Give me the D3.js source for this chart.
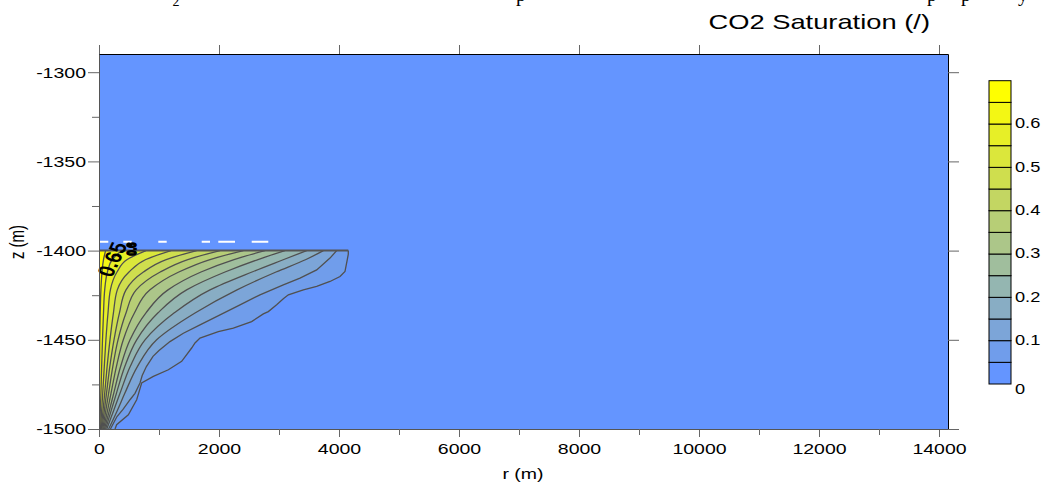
<!DOCTYPE html>
<html><head><meta charset="utf-8">
<script src="https://cdn.jsdelivr.net/npm/d3@7"></script>
<style>body{margin:0;background:#fff}svg{display:block}</style>
</head><body>
<svg id="c" width="1044" height="485"></svg>
<script>
// ---------------- DATA ----------------
const TITLE = "CO2 Saturation (/)";
const X_LABEL = "r (m)";
const Y_LABEL = "z (m)";
const X_DOMAIN = [0, 14150];
const Y_DOMAIN = [-1500, -1289.8];
const X_TICKS = [0, 2000, 4000, 6000, 8000, 10000, 12000, 14000];
const X_MINOR = [1000, 3000, 5000, 7000, 9000, 11000, 13000];
const Y_TICKS = [-1300, -1350, -1400, -1450, -1500];
const Y_MINOR = [-1325, -1375, -1425, -1475];
const CB_LEVELS = [0, 0.05, 0.1, 0.15, 0.2, 0.25, 0.3, 0.35, 0.4, 0.45, 0.5, 0.55, 0.6, 0.65, 0.7];
const CB_TICKS = [0, 0.1, 0.2, 0.3, 0.4, 0.5, 0.6];

// outer contours (r in m, z in m)
const R_005 = [4155,4155,4138,4100,4017,3850,3628,3406,3156,3072,2961,2822,2739,2544,2239,1989,1683,1600,1544,1378,1156,906,711,660,628,489,294,267];
const Z_005 = [-1400,-1402,-1405,-1411.7,-1414.5,-1417.3,-1420.1,-1422,-1424.8,-1427,-1430.4,-1434.2,-1435.5,-1439.8,-1443.4,-1445.4,-1449,-1451.8,-1454.6,-1462.1,-1466.8,-1470.5,-1474.2,-1480,-1483.6,-1492,-1497.6,-1500];
const R_010 = [3961,3850,3628,3350,3072,2683,2350,2017,1683,1406,1183,1000,900,790,720,683,600,517,400,300,190];
const Z_010 = [-1400,-1404.2,-1410.8,-1415.4,-1419.2,-1424.8,-1430.4,-1436,-1441.6,-1446.3,-1451,-1456,-1459.3,-1465,-1470,-1474.2,-1480,-1483.6,-1489,-1493,-1500];
// inner contours at common depths
const Z_INNER = [-1400,-1405,-1412,-1422,-1435,-1450,-1465,-1480,-1490,-1500];
const R_015 = [3739,3450,2950,2300,1600,961,640,430,300,160];
const R_020 = [3461,3080,2550,1850,1250,767,520,350,240,130];
const R_025 = [3100,2650,2100,1460,980,628,430,290,200,110];
const R_030 = [2767,2250,1700,1150,780,517,360,245,170,92];
const R_035 = [2406,1850,1330,850,590,405,290,200,140,76];
const R_040 = [2017,1480,1020,620,450,317,230,160,112,62];
const R_045 = [1628,1120,740,450,340,250,180,125,88,48];
const R_050 = [1200,780,500,305,240,183,135,95,66,36];
const R_055 = [783,470,300,190,150,115,88,62,44,25];
const R_060 = [380,220,140,95,75,58,44,32,22,14];
const R_065 = [110,75,50,32,20,12,8,5,3,2];
const CONTOUR_LABEL = "0.65";
const CONTOUR_LABEL2 = "0.6";
const DASH_R = [0, 2850];
const DASH_Z = -1395;
const PLUME_TOP_Z = -1400;

// ---------------- DRAW ----------------
const svg = d3.select("#c");
const FONT = "'Liberation Sans', Arial, sans-serif";
const STRETCH = 1.3;
const x = d3.scaleLinear().domain(X_DOMAIN).range([99, 948]);
const y = d3.scaleLinear().domain(Y_DOMAIN).range([429, 54]);
const BLUE = "#6495ff", YELLOW = "#ffff00";
const ncell = CB_LEVELS.length - 1;
const colors = d3.range(ncell).map(i => d3.interpolateRgb(BLUE, YELLOW)(i / (ncell - 1)));

function stretch(sel) {
  sel.each(function () {
    const w = this.getComputedTextLength();
    this.setAttribute("textLength", w * STRETCH);
    this.setAttribute("lengthAdjust", "spacingAndGlyphs");
  });
}

svg.append("defs").append("clipPath").attr("id", "clip")
  .append("rect").attr("x", x(X_DOMAIN[0])).attr("y", y(Y_DOMAIN[1]))
  .attr("width", x(X_DOMAIN[1]) - x(X_DOMAIN[0])).attr("height", y(Y_DOMAIN[0]) - y(Y_DOMAIN[1]));

svg.append("rect").attr("x", x(X_DOMAIN[0])).attr("y", y(Y_DOMAIN[1]))
  .attr("width", x(X_DOMAIN[1]) - x(X_DOMAIN[0])).attr("height", y(Y_DOMAIN[0]) - y(Y_DOMAIN[1]))
  .attr("fill", colors[0]);

const contours = [
  { lv: 0.05, pts: R_005.map((r, i) => [r, Z_005[i]]), curve: d3.curveLinear },
  { lv: 0.10, pts: R_010.map((r, i) => [r, Z_010[i]]), curve: d3.curveLinear },
  ...[R_015, R_020, R_025, R_030, R_035, R_040, R_045, R_050, R_055, R_060, R_065].map((arr, k) => ({
    lv: 0.15 + 0.05 * k, pts: arr.map((r, i) => [r, Z_INNER[i]]), curve: d3.curveMonotoneY
  }))
];

const gP = svg.append("g").attr("clip-path", "url(#clip)");
contours.forEach((c, i) => {
  const line = d3.line().x(d => x(d[0])).y(d => y(d[1])).curve(c.curve);
  const p = line(c.pts);
  const fillPath = `M${x(0)},${y(PLUME_TOP_Z)}L` + p.slice(1) + `L${x(0)},${y(-1500)}Z`;
  c.path = p;
  gP.append("path").attr("d", fillPath).attr("fill", colors[i + 1]).attr("stroke", "none");
});
contours.forEach(c => {
  gP.append("path").attr("d", c.path).attr("fill", "none").attr("stroke", "#505050").attr("stroke-width", 1.3);
});
gP.append("line").attr("x1", x(0)).attr("x2", x(R_005[0])).attr("y1", y(PLUME_TOP_Z)).attr("y2", y(PLUME_TOP_Z))
  .attr("stroke", "#555").attr("stroke-width", 2);
gP.append("line").attr("x1", x(DASH_R[0])).attr("x2", x(DASH_R[1])).attr("y1", y(DASH_Z)).attr("y2", y(DASH_Z))
  .attr("stroke", "#fff").attr("stroke-width", 2)
  .attr("stroke-dasharray", "0,1,8.3,15,8.4,26.6,8.4,35,8.3,8.3,16.7,16.7,16.6,200");

// contour labels
svg.append("text").attr("transform", `translate(114,260) scale(${STRETCH},1) rotate(-70)`)
  .attr("text-anchor", "middle").attr("dominant-baseline", "middle")
  .attr("font-family", FONT).attr("font-weight", "bold").attr("font-size", 18).attr("fill", "#000")
  .text(CONTOUR_LABEL);
svg.append("text").attr("transform", `translate(133,249) rotate(-90)`)
  .attr("text-anchor", "middle").attr("dominant-baseline", "middle")
  .attr("font-family", FONT).attr("font-weight", "bold").attr("font-size", 13).attr("fill", "#000")
  .attr("stroke", "#000").attr("stroke-width", 1.6)
  .attr("textLength", 13).attr("lengthAdjust", "spacingAndGlyphs")
  .text(CONTOUR_LABEL2);

// axes
function styleAxis(g, col) {
  g.selectAll(".domain").attr("stroke", col);
  g.selectAll(".tick line").attr("stroke", "#666");
  g.selectAll("text").attr("font-family", FONT).attr("font-size", 15).attr("fill", "#000");
}
const gl = svg.append("g").attr("transform", `translate(${x(0)},0)`)
  .call(d3.axisLeft(y).tickValues(Y_TICKS).tickSize(11).tickPadding(2).tickSizeOuter(0).tickFormat(d => String(d)));
styleAxis(gl, "#555");
gl.selectAll("text").call(stretch);
const glm = svg.append("g").attr("transform", `translate(${x(0)},0)`)
  .call(d3.axisLeft(y).tickValues(Y_MINOR).tickSize(7).tickSizeOuter(0).tickFormat(""));
styleAxis(glm, "#555");

const gb = svg.append("g").attr("transform", `translate(0,${y(-1500)})`)
  .call(d3.axisBottom(x).tickValues(X_TICKS).tickSize(8).tickPadding(6).tickSizeOuter(0).tickFormat(d => String(d)));
styleAxis(gb, "#555");
gb.selectAll("text").call(stretch);
const gbm = svg.append("g").attr("transform", `translate(0,${y(-1500)})`)
  .call(d3.axisBottom(x).tickValues(X_MINOR).tickSize(6).tickSizeOuter(0).tickFormat(""));
styleAxis(gbm, "#555");

const gt = svg.append("g").attr("transform", `translate(0,${y(Y_DOMAIN[1])})`)
  .call(d3.axisTop(x).tickValues(X_TICKS).tickSize(9).tickSizeOuter(0).tickFormat(""));
styleAxis(gt, "#000");
const gr = svg.append("g").attr("transform", `translate(${x(X_DOMAIN[1])},0)`)
  .call(d3.axisRight(y).tickValues(Y_TICKS).tickSize(11).tickSizeOuter(0).tickFormat(""));
styleAxis(gr, "#000");

// axis titles
svg.append("text").attr("transform", `translate(523,479) scale(${STRETCH},1)`)
  .attr("text-anchor", "middle").attr("font-family", FONT).attr("font-size", 15).text(X_LABEL);
svg.append("text").attr("transform", `translate(24,242) scale(${STRETCH},1) rotate(-90)`)
  .attr("text-anchor", "middle").attr("font-family", FONT).attr("font-size", 15).text(Y_LABEL);

// title
const tt = svg.append("text").attr("x", 930).attr("y", 29).attr("text-anchor", "end")
  .attr("font-family", FONT).attr("font-size", 21).text(TITLE);
tt.call(stretch);

// cut-off caption glyphs at the very top (as in the reference)
const SERIF = "'Liberation Serif', 'Times New Roman', serif";
[[176, 6, 14, "2"], [521, 1, 20, "p"], [932, 1, 20, "p"], [966, 1, 20, "p"], [1023, 1, 20, "y"]].forEach(d => {
  svg.append("text").attr("x", d[0]).attr("y", d[1]).attr("text-anchor", "middle")
    .attr("font-family", SERIF).attr("font-size", d[2]).text(d[3]);
});

// colorbar
const cb = d3.scaleLinear().domain([0, 0.7]).range([384, 80.7]);
const gc = svg.append("g");
d3.range(ncell).forEach(i => {
  gc.append("rect").attr("x", 989).attr("width", 22)
    .attr("y", cb(CB_LEVELS[i + 1])).attr("height", cb(CB_LEVELS[i]) - cb(CB_LEVELS[i + 1]))
    .attr("fill", colors[i]).attr("stroke", "#000").attr("stroke-width", 1);
});
CB_TICKS.forEach(v => {
  const t = gc.append("text").attr("x", 1015).attr("y", cb(v) + (v === 0 ? 6 : 0.5))
    .attr("dominant-baseline", "middle").attr("font-family", FONT).attr("font-size", 14).text(String(v));
  t.call(stretch);
});
</script>
</body></html>
